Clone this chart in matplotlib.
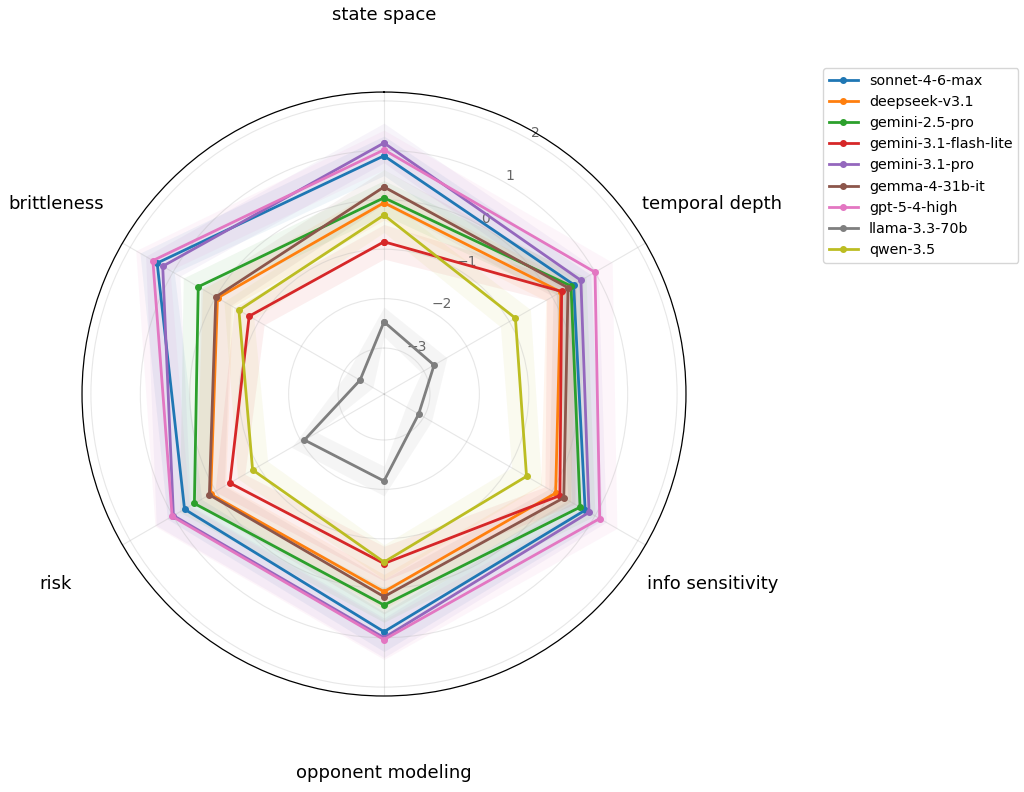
import numpy as np
import matplotlib
matplotlib.use("Agg")
import matplotlib.pyplot as plt

axes_names = ["state space", "temporal depth", "info sensitivity",
              "opponent modeling", "risk", "brittleness"]

models = ["sonnet-4-6-max", "deepseek-v3.1", "gemini-2.5-pro", "gemini-3.1-flash-lite",
          "gemini-3.1-pro", "gemma-4-31b-it", "gpt-5-4-high", "llama-3.3-70b", "qwen-3.5"]

sonnet = [0.89, 0.50, 0.77, 0.88, 0.73, 1.37]
deepseek = [-0.06, 0.20, 0.08, 0.07, 0.12, -0.04]
gemini25 = [0.04, 0.44, 0.65, 0.34, 0.50, 0.41]
flash_lite = [-0.85, 0.22, 0.18, -0.50, -0.33, -0.78]
gemini31 = [1.15, 0.67, 0.86, 1.00, 0.99, 1.24]
gemma = [0.26, 0.37, 0.27, 0.17, 0.15, 0.00]
gpt = [1.01, 1.00, 1.11, 1.04, 1.02, 1.47]
llama = [-2.47, -2.76, -3.12, -2.17, -2.07, -3.37]
qwen = [-0.31, -0.86, -0.60, -0.53, -0.86, -0.54]

# half-width of the shaded band round each line
spread = [0.40, 0.35, 0.35, 0.35, 0.40, 0.35, 0.40, 0.30, 0.35]

series = [sonnet, deepseek, gemini25, flash_lite, gemini31, gemma, gpt, llama, qwen]

angles = np.linspace(0, 2 * np.pi, len(axes_names), endpoint=False)
angles_c = np.concatenate([angles, angles[:1]])

fig = plt.figure(figsize=(10.24, 7.92), dpi=100)
ax = fig.add_axes([0.0801, 0.1212, 0.5898, 0.7626], projection="polar")
ax.set_theta_offset(np.pi / 2)
ax.set_theta_direction(-1)

colors = plt.rcParams["axes.prop_cycle"].by_key()["color"]
for name, vals, sd, c in zip(models, series, spread, colors):
    v = np.array(vals + vals[:1])
    ax.fill_between(angles_c, v - sd, v + sd, color=c, alpha=0.07, lw=0)
    ax.plot(angles_c, v, color=c, lw=2, marker="o", ms=4, label=name)

ax.set_ylim(-3.93, 2.18)
ax.set_yticks([-3, -2, -1, 0, 1, 2])
ax.set_yticklabels(["\u22123", "\u22122", "\u22121", "0", "1", "2"], color="#666666", fontsize=10)
ax.set_rlabel_position(30)
ax.set_xticks(angles)
ax.set_xticklabels(axes_names, fontsize=13)
ax.tick_params(axis="x", pad=45)
ax.grid(color="#b0b0b0", alpha=0.3, lw=0.8)
ax.spines["polar"].set_linewidth(0.9)

ax.legend(loc="upper left", bbox_to_anchor=(0.797, 0.923), bbox_transform=fig.transFigure,
          fontsize=10.3)

fig.savefig("out.png", dpi=100)
